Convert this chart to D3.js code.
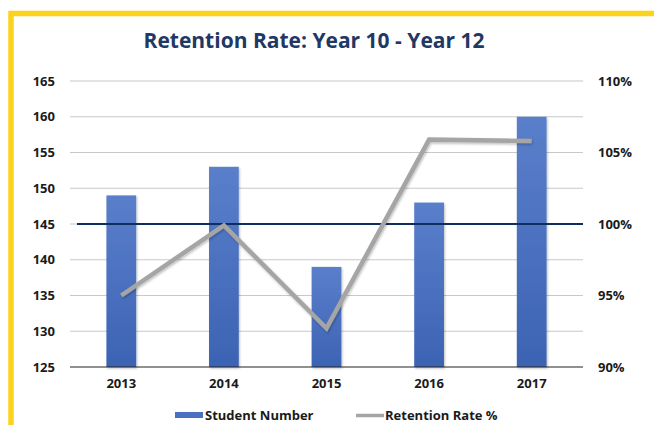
<!DOCTYPE html>
<html>
<head>
<meta charset="utf-8">
<script src="https://cdn.jsdelivr.net/npm/d3@7"></script>
<style>
  body { margin: 0; background: #fff; }
  text { font-family: "Open Sans", "Noto Sans", sans-serif; font-weight: bold; }
</style>
</head>
<body>
<div id="chart"></div>
<script>
// data
const years = ["2013", "2014", "2015", "2016", "2017"];
const studentNumber = [149, 153, 139, 148, 160];
const retentionRate = [95, 99.9, 92.7, 105.9, 105.8];
const leftTicks = [125, 130, 135, 140, 145, 150, 155, 160, 165];
const rightTicks = [90, 95, 100, 105, 110];
const referenceValue = 145;

const W = 654, H = 425;
var margin = {top: 81, right: 71, bottom: 58, left: 70},
    width = W - margin.left - margin.right,
    height = H - margin.top - margin.bottom;

const root = d3.select("#chart").append("svg")
    .attr("width", W)
    .attr("height", H);

// yellow frame (top + left edge)
root.append("path")
    .attr("d", "M11,425 V13.5 H654")
    .attr("fill", "none")
    .attr("stroke", "#fcd21d")
    .attr("stroke-width", 5.5);

root.append("text")
    .attr("x", 314)
    .attr("y", 48)
    .attr("text-anchor", "middle")
    .attr("fill", "#1f3864")
    .style("font-size", "21px")
    .text("Retention Rate: Year 10 - Year 12");

const defs = root.append("defs");
const grad = defs.append("linearGradient").attr("id", "barGrad")
    .attr("x1", 0).attr("x2", 0).attr("y1", 0).attr("y2", 1);
grad.append("stop").attr("offset", "0%").attr("stop-color", "#5a7fcb");
grad.append("stop").attr("offset", "100%").attr("stop-color", "#3c63b3");

const shadow = defs.append("filter").attr("id", "shadow")
    .attr("x", "-10%").attr("y", "-10%").attr("width", "130%").attr("height", "130%");
shadow.append("feDropShadow").attr("dx", 1).attr("dy", 1.5)
    .attr("stdDeviation", 1.2).attr("flood-color", "#000").attr("flood-opacity", 0.25);

const svg = root.append("g")
    .attr("transform", `translate(${margin.left},${margin.top})`);

const x = d3.scaleBand().domain(years).range([0, width]).paddingInner(0.71).paddingOuter(0.355);
const y = d3.scaleLinear().domain([125, 165]).range([height, 0]);
const y2 = d3.scaleLinear().domain([90, 110]).range([height, 0]);

// gridlines
svg.append("g")
    .selectAll("line")
    .data(leftTicks.slice(1))
    .enter().append("line")
    .attr("x1", 0).attr("x2", width)
    .attr("y1", d => y(d)).attr("y2", d => y(d))
    .attr("stroke", "#c8c8c8")
    .attr("stroke-width", 1.2);

// bars
svg.append("g")
    .selectAll("rect")
    .data(studentNumber)
    .enter().append("rect")
    .attr("x", (d, i) => x(years[i]))
    .attr("y", d => y(d))
    .attr("width", x.bandwidth())
    .attr("height", d => height - y(d))
    .attr("fill", "url(#barGrad)")
    .attr("filter", "url(#shadow)");

// reference line at 145 / 100%
svg.append("line")
    .attr("x1", 7).attr("x2", width)
    .attr("y1", y(referenceValue)).attr("y2", y(referenceValue))
    .attr("stroke", "#0e2f5e")
    .attr("stroke-width", 2.2);

// baseline
svg.append("line")
    .attr("x1", 0).attr("x2", width)
    .attr("y1", height).attr("y2", height)
    .attr("stroke", "#222")
    .attr("stroke-width", 1.2);

// retention line
const line = d3.line()
    .x((d, i) => x(years[i]) + x.bandwidth() / 2)
    .y(d => y2(d));
svg.append("path")
    .datum(retentionRate)
    .attr("d", line)
    .attr("fill", "none")
    .attr("stroke", "#a5a5a5")
    .attr("stroke-width", 4.5)
    .attr("stroke-linejoin", "miter")
    .attr("filter", "url(#shadow)");

// axes
const left = svg.append("g")
    .call(d3.axisLeft(y).tickValues(leftTicks).tickSize(0).tickPadding(15));
left.select(".domain").remove();
left.selectAll("text").style("font-size", "13px").attr("fill", "#1a1a1a");

const right = svg.append("g")
    .attr("transform", `translate(${width},0)`)
    .call(d3.axisRight(y2).tickValues(rightTicks).tickSize(0).tickPadding(15).tickFormat(d => d + "%"));
right.select(".domain").remove();
right.selectAll("text").style("font-size", "13px").attr("fill", "#1a1a1a");

const bottom = svg.append("g")
    .attr("transform", `translate(0,${height})`)
    .call(d3.axisBottom(x).tickSize(0).tickPadding(12));
bottom.select(".domain").remove();
bottom.selectAll("text").style("font-size", "13px").attr("fill", "#1a1a1a");

// legend
const legend = root.append("g");
legend.append("rect")
    .attr("x", 175).attr("y", 412).attr("width", 28).attr("height", 6)
    .attr("fill", "#4a70c0");
legend.append("text")
    .attr("x", 205).attr("y", 420)
    .style("font-size", "13px").attr("fill", "#1a1a1a")
    .text("Student Number");
legend.append("line")
    .attr("x1", 356).attr("x2", 384).attr("y1", 415.5).attr("y2", 415.5)
    .attr("stroke", "#a5a5a5").attr("stroke-width", 3.5);
legend.append("text")
    .attr("x", 385).attr("y", 420)
    .style("font-size", "13px").attr("fill", "#1a1a1a")
    .text("Retention Rate %");
</script>
</body>
</html>
